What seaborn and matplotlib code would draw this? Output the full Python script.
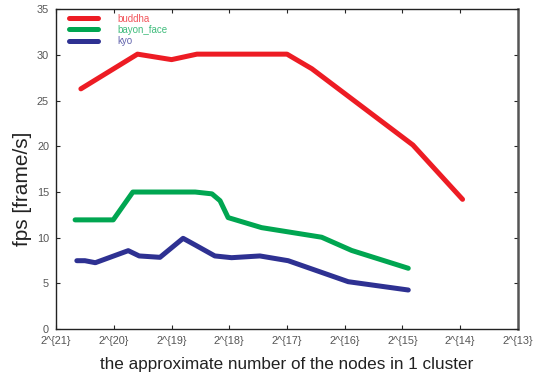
import pandas as pd
import matplotlib
matplotlib.use("Agg")
import matplotlib.pyplot as plt
import seaborn as sns

# x values are log2(number of nodes in one cluster)
buddha_x = [20.57, 19.59, 19.00, 18.56, 17.00, 16.57, 14.82, 13.96]
buddha_fps = [26.3, 30.1, 29.5, 30.1, 30.1, 28.5, 20.15, 14.2]

bayon_x = [20.67, 20.01, 19.67, 18.59, 18.30, 18.16, 18.02, 17.44, 16.40, 15.88, 14.90]
bayon_fps = [11.95, 11.95, 15.0, 15.0, 14.8, 14.05, 12.2, 11.1, 10.05, 8.6, 6.65]

kyo_x = [20.64, 20.50, 20.32, 19.75, 19.56, 19.20, 18.80, 18.59, 18.25, 17.96, 17.47, 16.98, 15.94, 14.90]
kyo_fps = [7.48, 7.48, 7.26, 8.58, 8.0, 7.85, 9.93, 9.2, 8.0, 7.81, 8.0, 7.48, 5.18, 4.27]

tick_pos = [21, 20, 19, 18, 17, 16, 15, 14, 13]
tick_labels = ["2^{%d}" % p for p in tick_pos]

series_names = ["buddha", "bayon_face", "kyo"]
colors = ["#ed1c24", "#00a651", "#2e3192"]

df = pd.concat([
    pd.DataFrame({"x": buddha_x, "fps": buddha_fps, "model": "buddha"}),
    pd.DataFrame({"x": bayon_x, "fps": bayon_fps, "model": "bayon_face"}),
    pd.DataFrame({"x": kyo_x, "fps": kyo_fps, "model": "kyo"}),
])

sns.set_style("ticks")
plt.rcParams["font.family"] = ["Liberation Sans", "DejaVu Sans"]

fig = plt.figure(figsize=(5.39, 3.76), dpi=100)
ax = fig.add_axes([0.104, 0.125, 0.857, 0.85])

sns.lineplot(data=df, x="x", y="fps", hue="model", hue_order=series_names,
             palette=colors, linewidth=3.6, sort=False, estimator=None, ax=ax)

ax.set_xlim(21, 13)
ax.set_ylim(0, 35)
ax.set_xticks(tick_pos)
ax.set_xticklabels(tick_labels)
ax.set_yticks(range(0, 36, 5))
ax.tick_params(direction="in", length=3, width=0.8, labelsize=7.8,
               labelcolor="#555555", top=True, right=True, pad=5)

for side in ["left", "bottom", "top"]:
    ax.spines[side].set_color("#222222")
    ax.spines[side].set_linewidth(1.0)
ax.spines["right"].set_color("#555555")
ax.spines["right"].set_linewidth(1.8)

ax.set_xlabel("the approximate number of the nodes in 1 cluster", fontsize=12.3,
              color="#222222", labelpad=8)
ax.set_ylabel("fps [frame/s]", fontsize=15, color="#222222")
ax.yaxis.set_label_coords(-0.052, 0.44)

leg = ax.legend(loc="upper left", frameon=False, fontsize=7, handlelength=3.0,
                handletextpad=2.0, labelspacing=0.12, borderaxespad=0.2,
                bbox_to_anchor=(0.015, 1.005))
for text, c in zip(leg.get_texts(), colors):
    text.set_color(c)
    text.set_alpha(0.75)

fig.savefig("out.png", dpi=100)
